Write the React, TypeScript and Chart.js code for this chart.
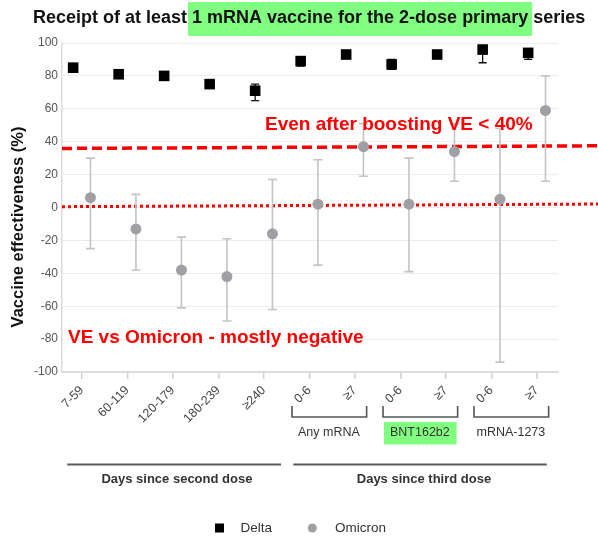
import React, { useEffect, useRef } from "react";
import { Chart, registerables } from "chart.js";

Chart.register(...registerables);

const xLabels = ["7-59", "60-119", "120-179", "180-239", "≥240", "0-6", "≥7", "0-6", "≥7", "0-6", "≥7"];
const deltaVE = [85, 81, 80, 75, 71, 89, 93, 87, 93, 96, 94];
const deltaLo = [84, 80, 79, 74, 65, 86, 92, 84, 92, 88, 90];
const deltaHi = [86, 82, 81, 76, 75, 91, 94, 90, 94, 97, 96];
const omicronVE = [6, -13, -38, -42, -16, 2, 37, 2, 34, 5, 59];
const omicronLo = [-25, -38, -61, -69, -62, -35, 19, -39, 16, -94, 16];
const omicronHi = [30, 8, -18, -19, 17, 29, 51, 30, 51, 48, 80];
const groupLabels = ["Any mRNA", "BNT162b2", "mRNA-1273"];
const groupStart = [5, 7, 9];
const sectionLabels = ["Days since second dose", "Days since third dose"];
const boostLine = [35.9, 37.5];
const zeroLine = [0.5, 2.1];
const titleParts = ["Receipt of at least", " 1 mRNA vaccine for the 2-dose primary", " series"];
const noteBoost = "Even after boosting VE < 40%";
const noteOmicron = "VE vs Omicron - mostly negative";
const yTitle = "Vaccine effectiveness (%)";
const seriesNames = ["Delta", "Omicron"];

const FONT = "'Liberation Sans', Arial, Helvetica, sans-serif";
const GREEN = "#80ff80";
const OMI = "#a0a0a4";
const OFF = 0.19;

const overlay = {
  id: "overlay",
  beforeDatasetsDraw(chart: any) {
    const { ctx, scales, chartArea, width } = chart;
    const y = scales.y;
    const x = scales.x;
    ctx.save();
    ctx.strokeStyle = "#ff0000";
    ctx.lineWidth = 3.5;
    ctx.setLineDash([10, 5]);
    ctx.beginPath();
    ctx.moveTo(chartArea.left, y.getPixelForValue(boostLine[0]));
    ctx.lineTo(width, y.getPixelForValue(boostLine[1]));
    ctx.stroke();
    ctx.lineWidth = 3;
    ctx.setLineDash([3, 3]);
    ctx.beginPath();
    ctx.moveTo(chartArea.left, y.getPixelForValue(zeroLine[0]));
    ctx.lineTo(width, y.getPixelForValue(zeroLine[1]));
    ctx.stroke();
    ctx.setLineDash([]);
    const bar = (xv: number, lo: number, hi: number, color: string, cap: number, lw: number) => {
      const px = x.getPixelForValue(xv);
      const p1 = y.getPixelForValue(lo);
      const p2 = y.getPixelForValue(hi);
      ctx.strokeStyle = color;
      ctx.lineWidth = lw;
      ctx.beginPath();
      ctx.moveTo(px, p1);
      ctx.lineTo(px, p2);
      ctx.moveTo(px - cap, p1);
      ctx.lineTo(px + cap, p1);
      ctx.moveTo(px - cap, p2);
      ctx.lineTo(px + cap, p2);
      ctx.stroke();
    };
    omicronVE.forEach((_, i) => bar(i + OFF, omicronLo[i], omicronHi[i], "#c4c4c4", 4.5, 1.6));
    deltaVE.forEach((_, i) => bar(i - OFF, deltaLo[i], deltaHi[i], "#111", 4, 1.3));
    ctx.restore();
  },
  afterDatasetsDraw(chart: any) {
    const { ctx, scales } = chart;
    const x = scales.x;
    ctx.save();
    ctx.fillStyle = "#ff0000";
    ctx.font = `bold 19px ${FONT}`;
    ctx.textBaseline = "middle";
    ctx.textAlign = "left";
    ctx.fillText(noteBoost, 265, 125);
    ctx.fillText(noteOmicron, 68, 338);

    ctx.font = `bold 18px ${FONT}`;
    ctx.textBaseline = "alphabetic";
    const x0 = 33;
    const w1 = ctx.measureText(titleParts[0]).width;
    const w2 = ctx.measureText(titleParts[1]).width;
    ctx.fillStyle = GREEN;
    ctx.fillRect(x0 + w1 + 1, 2, w2 + 3, 34);
    ctx.fillStyle = "#111";
    ctx.fillText(titleParts[0], x0, 23);
    ctx.fillText(titleParts[1], x0 + w1, 23);
    ctx.fillText(titleParts[2], x0 + w1 + w2, 23);

    ctx.save();
    ctx.translate(18, 227);
    ctx.rotate(-Math.PI / 2);
    ctx.font = `bold 16.5px ${FONT}`;
    ctx.textAlign = "center";
    ctx.textBaseline = "middle";
    ctx.fillStyle = "#111";
    ctx.fillText(yTitle, 0, 0);
    ctx.restore();

    ctx.strokeStyle = "#555";
    ctx.lineWidth = 1.6;
    ctx.font = `12.5px ${FONT}`;
    ctx.textAlign = "center";
    ctx.textBaseline = "middle";
    groupStart.forEach((g, k) => {
      const a = x.getPixelForValue(g - 0.38);
      const b = x.getPixelForValue(g + 1.26);
      ctx.beginPath();
      ctx.moveTo(a, 406);
      ctx.lineTo(a, 417);
      ctx.lineTo(b, 417);
      ctx.lineTo(b, 406);
      ctx.stroke();
      const c = x.getPixelForValue(g + 0.43);
      if (k === 1) {
        ctx.fillStyle = GREEN;
        ctx.fillRect(a + 1, 422, b - a - 2, 22.5);
      }
      ctx.fillStyle = "#333";
      ctx.fillText(groupLabels[k], c, 433);
    });

    ctx.lineWidth = 2;
    ctx.strokeStyle = "#5a5a5a";
    const sections = [[-0.32, 4.38], [4.65, 10.22]];
    sections.forEach((s, k) => {
      ctx.beginPath();
      ctx.moveTo(x.getPixelForValue(s[0]), 464.5);
      ctx.lineTo(x.getPixelForValue(s[1]), 464.5);
      ctx.stroke();
      ctx.font = `bold 13px ${FONT}`;
      ctx.fillStyle = "#333";
      ctx.fillText(sectionLabels[k], x.getPixelForValue([2.09, 7.52][k]), 479);
    });

    ctx.fillStyle = "#000";
    ctx.fillRect(215, 523.5, 9, 9);
    ctx.fillStyle = OMI;
    ctx.beginPath();
    ctx.arc(312.3, 528, 4.5, 0, Math.PI * 2);
    ctx.fill();
    ctx.fillStyle = "#333";
    ctx.textAlign = "left";
    ctx.font = `13.5px ${FONT}`;
    ctx.fillText(seriesNames[0], 240.5, 528.5);
    ctx.fillText(seriesNames[1], 335, 528.5);
    ctx.restore();
  },
};

export default function App() {
  const ref = useRef<HTMLCanvasElement | null>(null);
  useEffect(() => {
    document.body.style.margin = "0";
    if (!ref.current) return;
    Chart.defaults.font.family = FONT;
    const chart = new Chart(ref.current, {
      type: "scatter",
      data: {
        datasets: [
          {
            label: seriesNames[0],
            data: deltaVE.map((v, i) => ({ x: i - OFF, y: v })),
            pointStyle: "rect",
            pointRadius: 7.5,
            pointHoverRadius: 7.5,
            backgroundColor: "#000",
            borderColor: "#000",
            borderWidth: 0,
          },
          {
            label: seriesNames[1],
            data: omicronVE.map((v, i) => ({ x: i + OFF, y: v })),
            pointStyle: "circle",
            pointRadius: 5.5,
            pointHoverRadius: 5.5,
            backgroundColor: OMI,
            borderColor: OMI,
            borderWidth: 0,
          },
        ],
      },
      options: {
        animation: false,
        responsive: false,
        maintainAspectRatio: false,
        layout: { padding: { left: 0, right: 40, top: 43, bottom: 0 } },
        plugins: { legend: { display: false }, title: { display: false }, tooltip: { enabled: false } },
        scales: {
          x: {
            type: "linear",
            min: -0.435,
            max: 10.466,
            afterBuildTicks: (axis: any) => {
              axis.ticks = xLabels.map((_, i) => ({ value: i }));
            },
            afterFit: (s: any) => {
              s.height = 166;
            },
            ticks: {
              autoSkip: false,
              minRotation: 45,
              maxRotation: 45,
              padding: 4,
              color: "#444",
              font: { size: 12.5 },
              callback: (v: any) => xLabels[v] ?? "",
            },
            grid: { display: true, drawOnChartArea: false, drawTicks: true, tickLength: 7, color: "#cfcfcf", lineWidth: 1.5 },
            border: { display: true, color: "#dcdcdc", width: 2 },
          },
          y: {
            min: -100,
            max: 100,
            afterFit: (s: any) => {
              s.width = 62;
            },
            ticks: { stepSize: 20, color: "#555", font: { size: 12 }, padding: 4 },
            grid: { color: "#ececec", drawTicks: false },
            border: { display: true, color: "#dcdcdc", width: 1.5 },
          },
        },
      },
      plugins: [overlay],
    } as any);
    return () => chart.destroy();
  }, []);
  return (
    <div style={{ width: 598, height: 538, background: "#fff" }}>
      <canvas ref={ref} width={598} height={538} />
    </div>
  );
}
